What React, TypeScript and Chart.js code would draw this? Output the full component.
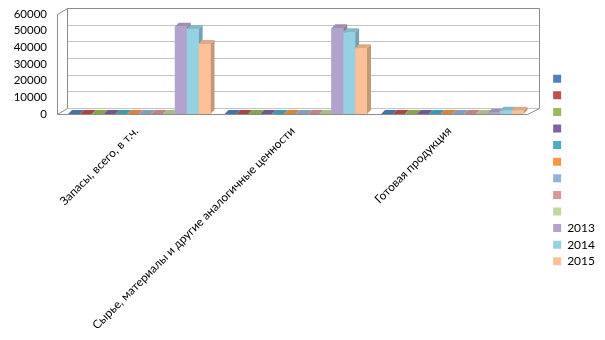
import React, { useEffect, useRef } from "react";
import { Chart, registerables } from "chart.js";

Chart.register(...registerables);

const categories = [
  "Запасы, всего, в т.ч.",
  "Сырье, материалы и другие аналогичные ценности",
  "Готовая продукция",
];

const seriesNames = ["", "", "", "", "", "", "", "", "", "2013", "2014", "2015"];

const emptySeries = [0, 0, 0];
const values2013 = [52300, 51500, 800];
const values2014 = [51000, 49000, 2000];
const values2015 = [42000, 39500, 2000];

const seriesValues = [
  emptySeries, emptySeries, emptySeries, emptySeries, emptySeries,
  emptySeries, emptySeries, emptySeries, emptySeries,
  values2013, values2014, values2015,
];

const yTicks = [0, 10000, 20000, 30000, 40000, 50000, 60000];

const palette = [
  "#4F81BD", "#C0504D", "#9BBB59", "#8064A2", "#4BACC6", "#F79646",
  "#95B3D7", "#D99694", "#C3D69B", "#B1A3CC", "#96D0E3", "#FCC197",
];

function shade(hex: string, f: number): string {
  const n = parseInt(hex.slice(1), 16);
  let r = (n >> 16) & 255, g = (n >> 8) & 255, b = n & 255;
  r = Math.round(r * (1 + f)); g = Math.round(g * (1 + f)); b = Math.round(b * (1 + f));
  return `rgb(${r},${g},${b})`;
}

// wall geometry relative to the bar area: front plane offset and depth
const FRONT_DX = -4, BACK_DX = 6, WDY = -6, BD = 4;

const depthPlugin = {
  id: "depth3d",
  beforeDatasetsDraw(chart: any) {
    const { ctx, chartArea: ca } = chart;
    const ys = chart.scales.y;
    ctx.save();
    ctx.lineWidth = 1;
    const fL = Math.round(ca.left + FRONT_DX) + 0.5;
    const fR = Math.round(ca.right + FRONT_DX) + 0.5;
    const bL = Math.round(ca.left + BACK_DX) + 0.5;
    const bR = Math.round(ca.right + BACK_DX + 2) + 0.5;
    const T = Math.round(ca.top) + 0.5, B = Math.round(ca.bottom) + 0.5;
    ctx.strokeStyle = "#C4C4C4";
    yTicks.forEach((v) => {
      const y = Math.round(ys.getPixelForValue(v) + WDY) + 0.5;
      ctx.beginPath();
      ctx.moveTo(bL, y);
      ctx.lineTo(bR, y);
      ctx.stroke();
    });
    ctx.strokeStyle = "#8C8C8C";
    ctx.beginPath();
    ctx.moveTo(bL, T + WDY); ctx.lineTo(bR, T + WDY);
    ctx.lineTo(bR, B + WDY);
    ctx.moveTo(bL, T + WDY); ctx.lineTo(bL, B + WDY);
    ctx.moveTo(fL, T); ctx.lineTo(bL, T + WDY);
    ctx.moveTo(fL, T); ctx.lineTo(fL, B);
    ctx.lineTo(bL, B + WDY);
    ctx.moveTo(fL, B); ctx.lineTo(fR, B); ctx.lineTo(bR, B + WDY);
    ctx.stroke();
    ctx.restore();
  },
  afterDatasetsDraw(chart: any) {
    const { ctx } = chart;
    const n = chart.data.labels.length;
    ctx.save();
    for (let i = 0; i < n; i++) {
      chart.data.datasets.forEach((ds: any, di: number) => {
        const meta = chart.getDatasetMeta(di);
        const el = meta.data[i];
        if (!el) return;
        const { x, y, base, width } = el.getProps(["x", "y", "base", "width"], true);
        const l = x - width / 2, r = x + width / 2;
        const top = Math.min(y, base), bottom = Math.max(y, base);
        const c = ds.backgroundColor as string;
        ctx.fillStyle = shade(c, -0.22);
        ctx.beginPath();
        ctx.moveTo(r, top); ctx.lineTo(r + BD, top - BD);
        ctx.lineTo(r + BD, bottom - BD); ctx.lineTo(r, bottom);
        ctx.closePath(); ctx.fill();
        ctx.fillStyle = shade(c, -0.12);
        ctx.beginPath();
        ctx.moveTo(l, top); ctx.lineTo(l + BD, top - BD);
        ctx.lineTo(r + BD, top - BD); ctx.lineTo(r, top);
        ctx.closePath(); ctx.fill();
        ctx.fillStyle = c;
        ctx.fillRect(l, top, width, bottom - top);
      });
    }
    ctx.restore();
  },
};

export default function App() {
  const ref = useRef<HTMLCanvasElement | null>(null);
  useEffect(() => {
    document.body.style.margin = "0";
    const canvas = ref.current!;
    const chart = new Chart(canvas, {
      type: "bar",
      data: {
        labels: categories,
        datasets: seriesNames.map((name, i) => ({
          label: name,
          data: seriesValues[i],
          backgroundColor: palette[i],
          borderWidth: 0,
          categoryPercentage: 0.91,
          barPercentage: 1.0,
        })),
      },
      options: {
        responsive: false,
        animation: false,
        layout: { padding: { top: 0, right: 0, left: 0, bottom: 0 } },
        plugins: {
          tooltip: { enabled: false },
          legend: {
            position: "right",
            labels: {
              boxWidth: 8,
              boxHeight: 8,
              padding: 4.6,
              color: "#000",
              font: { family: "Lato", size: 12 },
            },
          },
        },
        scales: {
          x: {
            grid: { display: false, drawTicks: false },
            border: { display: false },
            ticks: {
              autoSkip: false,
              minRotation: 45,
              maxRotation: 45,
              color: "#000",
              padding: 10,
              labelOffset: -3,
              font: { family: "Lato", size: 11.8 },
            },
            afterFit(s: any) { s.height = 226; },
          },
          y: {
            min: 0,
            max: 60000,
            grid: { display: false, drawTicks: false },
            border: { display: false },
            afterBuildTicks(s: any) { s.ticks = yTicks.map((v) => ({ value: v })); },
            ticks: {
              autoSkip: false,
              padding: 14,
              color: "#000",
              font: { family: "Lato", size: 11.5 },
              callback: (v: any) => String(v),
            },
            afterFit(s: any) {
              s.width = 61;
              s.paddingTop = 14;
              s.paddingBottom = 7;
            },
          },
          yr: {
            position: "right",
            display: true,
            grid: { display: false },
            border: { display: false },
            ticks: { display: false },
            afterFit(s: any) { s.width = 18; s.paddingTop = 0; s.paddingBottom = 0; },
          },
        },
      },
      plugins: [depthPlugin],
    });
    return () => chart.destroy();
  }, []);
  return (
    <div style={{ width: 605, height: 340 }}>
      <canvas ref={ref} width={605} height={340} />
    </div>
  );
}
